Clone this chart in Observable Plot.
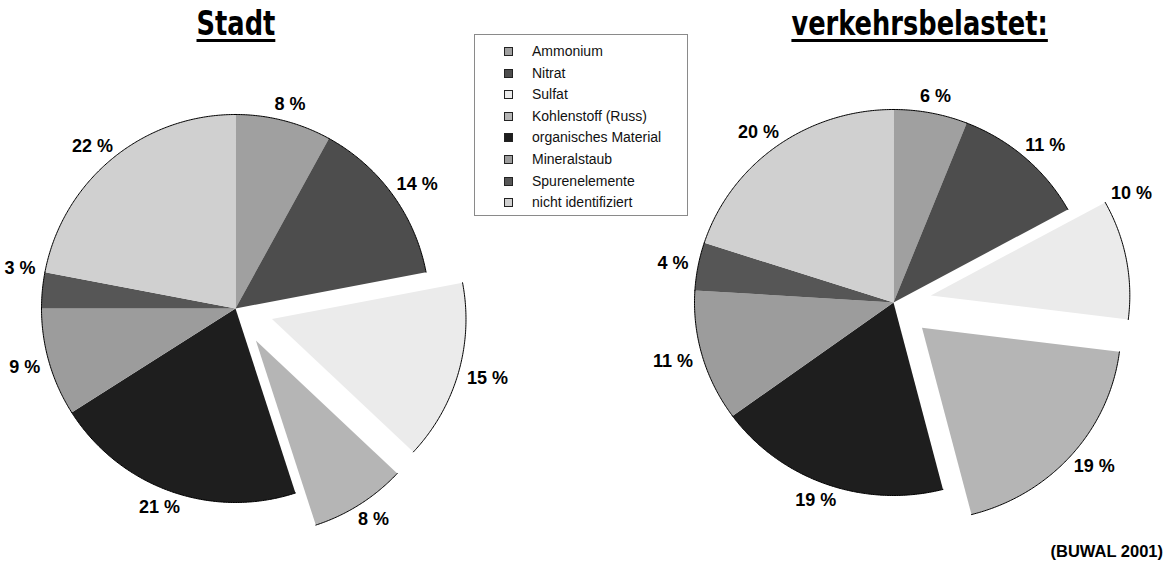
<!DOCTYPE html>
<html><head><meta charset="utf-8">
<script src="https://cdn.jsdelivr.net/npm/d3@7"></script>
<script src="https://cdn.jsdelivr.net/npm/@observablehq/plot@0.6"></script>
<style>
body{margin:0;background:#fff;}
#wrap{position:relative;width:1169px;height:566px;overflow:hidden;font-family:"Liberation Sans",Arial,sans-serif;}
#wrap svg{position:absolute;left:0;top:0;}
.title{position:absolute;top:5px;width:400px;text-align:center;white-space:nowrap;}
.title span{display:inline-block;transform:scaleX(0.84);transform-origin:center;font-family:"Liberation Sans Narrow","DejaVu Sans Condensed","Liberation Sans",sans-serif;font-stretch:condensed;font-weight:bold;font-size:34px;line-height:36px;color:#000;text-decoration:underline;text-decoration-thickness:3px;text-underline-offset:4px;}
#legend{position:absolute;left:474px;top:34px;width:212px;height:180px;border:1px solid #8a8a8a;background:#fff;}
.row{position:absolute;left:0;height:18px;font-size:14px;line-height:18px;color:#111;white-space:nowrap;}
.sw{position:absolute;left:29px;top:5px;width:7px;height:7px;border:1px solid #222;}
.lt{position:absolute;left:57px;top:0;}
#source{position:absolute;right:6px;top:542px;font-weight:bold;font-size:16.5px;line-height:18px;color:#000;white-space:nowrap;}
</style></head><body><div id="wrap"></div>
<script>
// ---- data ----
const categories = ["Ammonium","Nitrat","Sulfat","Kohlenstoff (Russ)","organisches Material","Mineralstaub","Spurenelemente","nicht identifiziert"];
const stadtValues = [8,14,15,8,21,9,3,22];
const verkehrValues = [6,11,10,19,19,11,4,20];
const explodedCategories = ["Sulfat","Kohlenstoff (Russ)"];
const pieTitles = ["Stadt","verkehrsbelastet:"];
const sourceText = "(BUWAL 2001)";

// ---- styles / layout ----
const sliceColors = ["#a0a0a0","#4d4d4d","#ebebeb","#b5b5b5","#1e1e1e","#9c9c9c","#565656","#d0d0d0"];
const W = 1169, H = 566;
const layout = [
  {cx:235, cy:308, rx:194, ry:194, titleX:236},
  {cx:893, cy:302, rx:199, ry:193, titleX:920}
];
const explodeDist = 38;
const labelGap = 10;
const labelFont = 18;
const labelBounds = [4, W - 19];

function labelWidth(t) {
  let w = 0;
  for (const ch of t) w += ch === " " ? 0.278 : ch === "%" ? 0.889 : 0.556;
  return w * labelFont;
}

const pies = [stadtValues, verkehrValues];
const fills = [], arcs = [], labels = [];
pies.forEach((vals, p) => {
  const L = layout[p];
  const total = d3.sum(vals);
  let cum = 0;
  vals.forEach((v, i) => {
    const a0 = cum / total * 2 * Math.PI;
    cum += v;
    const a1 = cum / total * 2 * Math.PI;
    const mid = (a0 + a1) / 2;
    const ex = explodedCategories.includes(categories[i]) ? explodeDist : 0;
    const ox = L.cx + ex * Math.sin(mid), oy = L.cy - ex * Math.cos(mid);
    const key = p + "-" + i;
    const n = Math.max(2, Math.ceil((a1 - a0) / (Math.PI / 360)));
    const arc = d3.range(n + 1).map(k => {
      const t = a0 + (a1 - a0) * k / n;
      return {key, category: categories[i], x: ox + L.rx * Math.sin(t), y: oy - L.ry * Math.cos(t)};
    });
    fills.push({key, category: categories[i], x: ox, y: oy}, ...arc);
    arcs.push(...arc);
    // outside-end label, moved along the slice if it would leave the chart area
    const text = v + " %";
    const w = labelWidth(text), h = labelFont * 0.78;
    const place = th => {
      const s = Math.sin(th), c = Math.cos(th);
      return {x: ox + (L.rx + labelGap) * s + s * w / 2, y: oy - (L.ry + labelGap) * c - c * h / 2};
    };
    let th = mid, pos = place(th);
    const step = Math.PI / 720;
    while (pos.x + w / 2 > labelBounds[1] && th > a0) { th -= step; pos = place(th); }
    while (pos.x - w / 2 < labelBounds[0] && th < a1) { th += step; pos = place(th); }
    labels.push({text, x: pos.x, y: pos.y});
  });
});

const chart = Plot.plot({
  width: W, height: H, margin: 0,
  style: {background: "white", fontFamily: "'Liberation Sans', Arial, sans-serif"},
  x: {domain: [0, W], range: [0, W], axis: null},
  y: {domain: [0, H], range: [0, H], axis: null},
  color: {domain: categories, range: sliceColors},
  marks: [
    Plot.line(fills, {x: "x", y: "y", z: "key", fill: "category", stroke: "none", curve: "linear-closed"}),
    Plot.line(arcs, {x: "x", y: "y", z: "key", stroke: "#000", strokeWidth: 1}),
    Plot.text(labels, {x: "x", y: "y", text: "text", fontSize: labelFont, fontWeight: "bold", fill: "#000"})
  ]
});
const wrap = document.getElementById("wrap");
wrap.appendChild(chart);

pieTitles.forEach((t, p) => {
  const d = document.createElement("div");
  d.className = "title";
  const sp = document.createElement("span");
  sp.textContent = t;
  d.appendChild(sp);
  d.style.left = (layout[p].titleX - 200) + "px";
  wrap.appendChild(d);
});

const lg = document.createElement("div");
lg.id = "legend";
categories.forEach((c, i) => {
  const r = document.createElement("div");
  r.className = "row";
  r.style.top = (7 + i * 21.6) + "px";
  r.innerHTML = `<span class="sw" style="background:${sliceColors[i]}"></span><span class="lt"></span>`;
  r.querySelector(".lt").textContent = c;
  lg.appendChild(r);
});
wrap.appendChild(lg);

const s = document.createElement("div");
s.id = "source";
s.textContent = sourceText;
wrap.appendChild(s);
</script></body></html>
